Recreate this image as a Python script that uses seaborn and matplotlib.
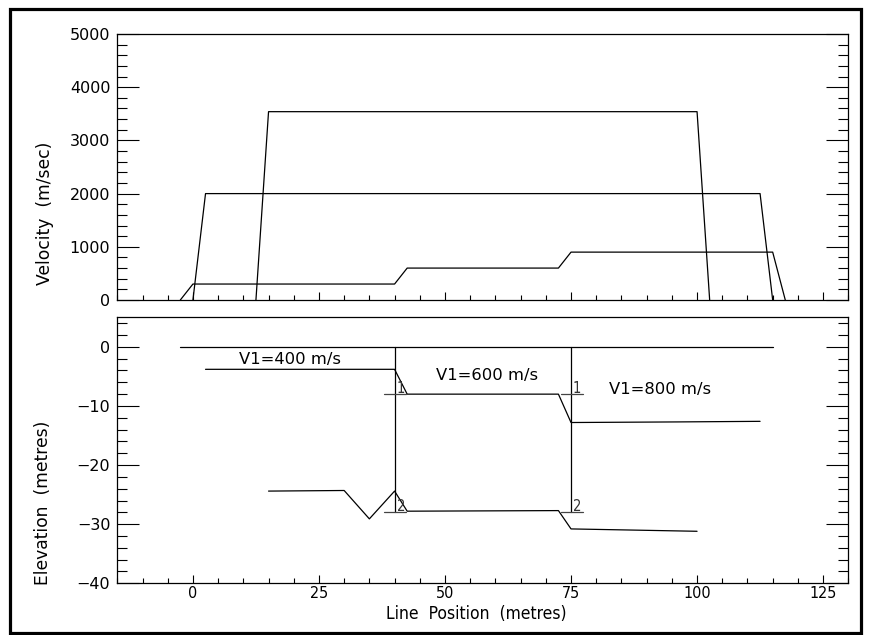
import matplotlib
matplotlib.use("Agg")
import matplotlib.pyplot as plt
import seaborn as sns
from matplotlib.ticker import MultipleLocator
from matplotlib.patches import Rectangle

# Velocity profiles along the line (m/sec)
vel_pos_1 = [-2.5, 0.0, 40.0, 42.5, 72.5, 75.0, 115.0, 117.5]
vel_val_1 = [0, 300, 300, 600, 600, 900, 900, 0]
vel_pos_2 = [0.0, 2.5, 112.5, 115.0]
vel_val_2 = [0, 2000, 2000, 0]
vel_pos_3 = [12.5, 15.0, 100.0, 102.5]
vel_val_3 = [0, 3540, 3540, 0]

# Elevation model (metres)
surface_pos = [-2.5, 115.0]
surface_elev = [0.0, 0.0]
layer1_pos = [2.5, 40.0, 42.5, 72.5, 75.0, 96.0, 112.5]
layer1_elev = [-3.8, -3.8, -8.0, -8.0, -12.8, -12.7, -12.6]
layer2_pos = [15.0, 30.0, 35.0, 40.0, 42.5, 72.5, 75.0, 100.0]
layer2_elev = [-24.4, -24.3, -29.1, -24.4, -27.8, -27.7, -30.8, -31.2]

# Shot points and the interface depths picked beneath them
shot_pos = [40.0, 75.0]
shot_depth_1 = [-8.0, -8.0]
shot_depth_2 = [-28.0, -28.0]
interface_names = ["1", "2"]

# Layer-1 velocity annotations
v1_text = ["V1=400 m/s", "V1=600 m/s", "V1=800 m/s"]

x_ticks = [0, 25, 50, 75, 100, 125]
vel_ticks = [0, 1000, 2000, 3000, 4000, 5000]
elev_ticks = [0, -10, -20, -30, -40]

sns.set_theme(style="white")
plt.rcParams["font.family"] = ["DejaVu Sans"]
plt.rcParams.update({
    "axes.edgecolor": "black",
    "axes.linewidth": 0.9,
    "text.color": "black",
    "axes.labelcolor": "black",
    "xtick.color": "black",
    "ytick.color": "black",
})

W, H = 869, 635
fig = plt.figure(figsize=(W / 100, H / 100), dpi=100)
fig.patch.set_facecolor("white")

L, R = 117.3, 848.3
ax1 = fig.add_axes([L / W, 1 - 300.0 / H, (R - L) / W, (300.0 - 34.0) / H])
ax2 = fig.add_axes([L / W, 1 - 583.3 / H, (R - L) / W, (583.3 - 317.3) / H])

line_kw = dict(color="black", linewidth=0.9, estimator=None, sort=False, legend=False)

# --- velocity panel ---
for xs, vs in [(vel_pos_1, vel_val_1), (vel_pos_2, vel_val_2), (vel_pos_3, vel_val_3)]:
    sns.lineplot(x=xs, y=vs, ax=ax1, **line_kw)

# --- elevation panel ---
sns.lineplot(x=surface_pos, y=surface_elev, ax=ax2, **line_kw)
sns.lineplot(x=layer1_pos, y=layer1_elev, ax=ax2, **line_kw)
sns.lineplot(x=layer2_pos, y=layer2_elev, ax=ax2, **line_kw)

for xp, d1, d2 in zip(shot_pos, shot_depth_1, shot_depth_2):
    sns.lineplot(x=[xp, xp], y=[0.0, d2], ax=ax2, **line_kw)
    for d, name in zip([d1, d2], interface_names):
        sns.lineplot(x=[xp - 2.0, xp + 2.3], y=[d, d], ax=ax2,
                     color="#444444", linewidth=0.9, estimator=None,
                     sort=False, legend=False)
        ax2.text(xp + 0.4, d + 0.2, name, fontsize=10.5, color="#333333",
                 ha="left", va="baseline", fontstretch="condensed")

for txt, tx, ty in zip(v1_text, [19.3, 58.3, 92.7], [-2.1, -4.9, -7.2]):
    ax2.text(tx, ty, txt, fontsize=11.8, ha="center", va="center", color="black")

# --- axes styling ---
for ax in (ax1, ax2):
    ax.set_xlim(-15, 130)
    ax.xaxis.set_major_locator(MultipleLocator(25))
    ax.xaxis.set_minor_locator(MultipleLocator(5))
    ax.tick_params(axis="x", which="major", direction="in", length=6,
                   width=0.8, bottom=True, top=False, color="black")
    ax.tick_params(axis="x", which="minor", direction="in", length=3.3,
                   width=0.8, bottom=True, top=False, color="black")
    ax.tick_params(axis="y", which="major", direction="in", length=16,
                   width=0.8, left=True, right=True, color="black",
                   labelsize=11.5, pad=5, labelcolor="black")
    ax.tick_params(axis="y", which="minor", direction="in", length=7.5,
                   width=0.8, left=True, right=True, color="black")
    for sp in ax.spines.values():
        sp.set_visible(True)
        sp.set_color("black")
        sp.set_linewidth(0.9)
    ax.set_facecolor("white")

ax1.set_ylim(0, 5000)
ax1.set_yticks(vel_ticks)
ax1.yaxis.set_minor_locator(MultipleLocator(200))
ax1.tick_params(axis="x", labelbottom=False)
ax1.set_xlabel("")
ax1.set_ylabel("Velocity  (m/sec)", fontsize=12.3)

ax2.set_ylim(-40, 5)
ax2.set_yticks(elev_ticks)
ax2.yaxis.set_minor_locator(MultipleLocator(2))
ax2.set_xticks(x_ticks, labels=[str(t) for t in x_ticks], fontsize=11.5,
               fontstretch="condensed", color="black")
ax2.tick_params(axis="x", which="major", pad=2.0)
ax2.set_ylabel("Elevation  (metres)", fontsize=12.3)
ax2.set_xlabel("Line  Position  (metres)", fontsize=12.5, fontstretch="condensed")

for ax, (lx, ly) in [(ax1, (-0.0989, 0.327)), (ax2, (-0.1012, 0.304))]:
    lab = ax.yaxis.label
    lab.set_rotation_mode("default")
    lab.set_verticalalignment("center")
    lab.set_horizontalalignment("center")
    ax.yaxis.set_label_coords(lx, ly)

xl = ax2.xaxis.label
xl.set_verticalalignment("center")
ax2.xaxis.set_label_coords(0.4907, -0.116)

# outer frame around the whole figure
fig.add_artist(Rectangle((9.5 / W, 1 - 632.5 / H), (861.0 - 9.5) / W, (632.5 - 9.3) / H,
                         transform=fig.transFigure, fill=False, edgecolor="black",
                         linewidth=2.3))

fig.savefig("out.png", dpi=100, facecolor="white")
